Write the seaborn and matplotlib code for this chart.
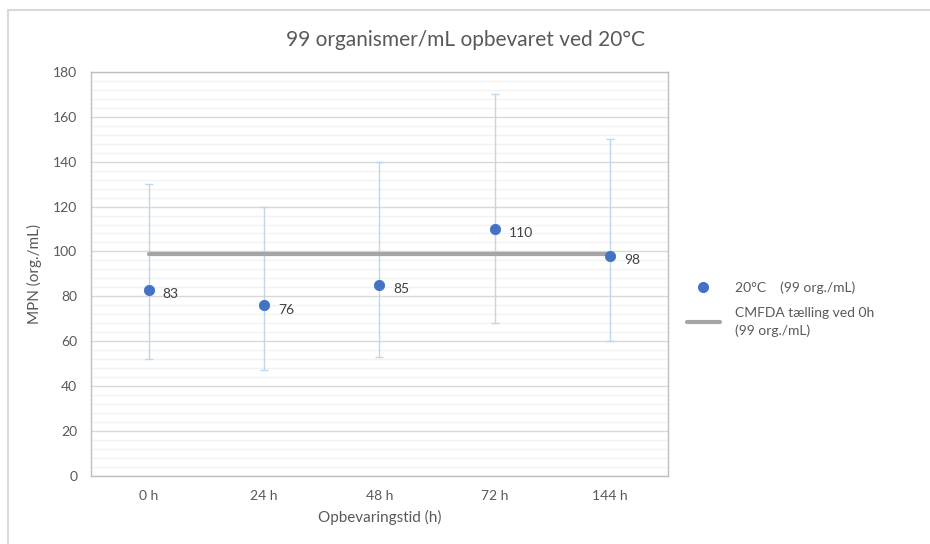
import numpy as np
import pandas as pd
import seaborn as sns
import matplotlib.pyplot as plt
from matplotlib.lines import Line2D
from matplotlib.ticker import MultipleLocator

sns.set_style("white")
plt.rcParams['font.family'] = ['Lato', 'DejaVu Sans']

# data
timepoints = ['0 h', '24 h', '48 h', '72 h', '144 h']
mpn = [83, 76, 85, 110, 98]
ci_low = [52, 47, 53, 68, 60]
ci_high = [130, 120, 140, 170, 150]
cmfda = 99

df = pd.DataFrame({'tid': timepoints, 'mpn': mpn, 'lo': ci_low, 'hi': ci_high})

text_col = '#595959'
blue = '#4472C4'
fig = plt.figure(figsize=(9.3, 5.44), dpi=100)
ax = fig.add_axes([0.098, 0.125, 0.62, 0.743])

# error bars first so they sit behind the points
ax.errorbar(df['tid'], df['mpn'], yerr=[df['mpn'] - df['lo'], df['hi'] - df['mpn']],
            fmt='none', ecolor='#BDD7EE', elinewidth=1, capsize=3, zorder=2)

# CMFDA reference line
ax.plot(df['tid'], [cmfda] * len(timepoints), color='#A5A5A5', lw=3, zorder=3)

sns.scatterplot(data=df, x='tid', y='mpn', color=blue, s=55, edgecolor=blue,
                ax=ax, zorder=4, legend=False)

for i, v in enumerate(mpn):
    ax.annotate(str(v), (i, v), xytext=(10, -3), textcoords='offset points',
                va='center', ha='left', fontsize=10, color='#404040')

ax.set_xlim(-0.5, 4.5)
ax.set_ylim(0, 180)
ax.yaxis.set_major_locator(MultipleLocator(20))
ax.yaxis.set_minor_locator(MultipleLocator(4))
ax.grid(which='minor', axis='y', color='#F2F2F2', lw=1)
ax.grid(which='major', axis='y', color='#D9D9D9', lw=1)
ax.set_axisbelow(True)
for s in ax.spines.values():
    s.set_color('#BFBFBF')
    s.set_linewidth(1)
ax.tick_params(axis='both', which='both', length=0, labelsize=10, labelcolor=text_col, pad=10)

ax.set_xlabel('Opbevaringstid (h)', fontsize=11, color=text_col, labelpad=6)
ax.set_ylabel('MPN (org./mL)', fontsize=11, color=text_col, labelpad=8)
fig.suptitle('99 organismer/mL opbevaret ved 20°C', fontsize=15, color=text_col, y=0.945)

handles = [
    Line2D([], [], marker='o', ls='none', color=blue, markersize=7),
    Line2D([], [], color='#A5A5A5', lw=3),
]
leg = fig.legend(handles, ['20°C    (99 org./mL)', 'CMFDA tælling ved 0h\n(99 org./mL)'],
                 loc='upper left', bbox_to_anchor=(0.725, 0.505), frameon=False,
                 fontsize=10, labelcolor=text_col, handlelength=2.4, handletextpad=1.1,
                 labelspacing=0.9)
for t in leg.get_texts():
    t.set_linespacing(1.5)

# outer chart border (top and left visible in reference)
fig.add_artist(Line2D([0.009, 1], [0.982, 0.982], transform=fig.transFigure, color='#D9D9D9', lw=1.5))
fig.add_artist(Line2D([0.009, 0.009], [0, 0.982], transform=fig.transFigure, color='#D9D9D9', lw=1.5))

fig.savefig('out.png', dpi=100)
